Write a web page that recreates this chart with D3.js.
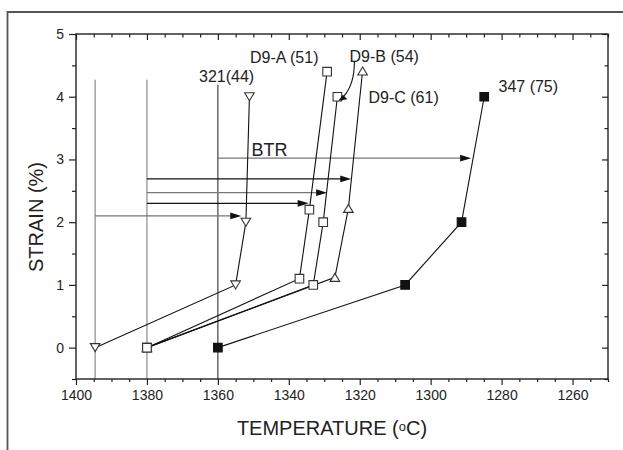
<!DOCTYPE html>
<html><head><meta charset="utf-8">
<script src="https://cdn.jsdelivr.net/npm/d3@7"></script>
<style>
html,body{margin:0;padding:0;background:#fff;}
svg{display:block;font-family:"Liberation Sans",Arial,sans-serif;}
</style></head>
<body><svg id="c" width="623" height="450"></svg>
<script>
// ---------- data ----------
const xTickLabels = [1400, 1380, 1360, 1340, 1320, 1300, 1280, 1260];
const yTickLabels = [0, 1, 2, 3, 4, 5];

const t321 = [1394.6, 1355.0, 1352.1, 1351.1];
const s321 = [0, 1.0, 2.0, 4.0];
const tD9A = [1380, 1337.0, 1334.2, 1329.2];
const sD9A = [0, 1.1, 2.2, 4.4];
const tD9B = [1380, 1333.1, 1330.3, 1326.3];
const sD9B = [0, 1.0, 2.0, 4.0];
const tD9C = [1380, 1327.0, 1323.2, 1319.2];
const sD9C = [0, 1.12, 2.22, 4.41];
const t347 = [1360, 1307.2, 1291.3, 1284.9];
const s347 = [0, 1.0, 2.0, 4.0];

// vertical reference lines: temperature, top strain
const vlineT = [1394.6, 1380, 1360];
const vlineTop = [4.27, 4.27, 4.19];
const vlineColor = ["#8a8a8a", "#8a8a8a", "#444"];

// BTR arrows: strain level, start temperature, end temperature
const btrStrain = [3.02, 2.69, 2.47, 2.30, 2.10];
const btrFrom = [1360, 1380, 1380, 1380, 1394.6];
const btrTo = [1288.6, 1322.4, 1329.2, 1334.4, 1353.4];
const btrColor = ["#777", "#111", "#777", "#111", "#777"];

// ---------- layout ----------
const svg = d3.select("#c");
const L = 76, R = 608, T = 34, B = 379;
const x = d3.scaleLinear().domain([1400, 1250]).range([L, R]);
const y = d3.scaleLinear().domain([-0.5, 5]).range([B, T]);

// outer frame (left and top only visible)
svg.append("path").attr("d", `M7.5,450 V12 H623`).attr("fill", "none")
  .attr("stroke", "#555").attr("stroke-width", 1.8);

// vertical lines
vlineT.forEach((t, i) => {
  svg.append("line").attr("x1", x(t)).attr("x2", x(t))
    .attr("y1", y(vlineTop[i])).attr("y2", y(-0.5))
    .attr("stroke", vlineColor[i]).attr("stroke-width", 1.2);
});

// axes
const axisColor = "#222";
const major20 = d3.range(1400, 1249, -20);
const minor5 = d3.range(1400, 1249, -5).filter(v => v % 20 !== 0);
const majorY = d3.range(0, 5.01, 1);
const minorY = d3.range(-0.5, 5.01, 0.5).filter(v => v % 1 !== 0);

function styleAxis(g) {
  g.select(".domain").remove();
  g.selectAll("line").attr("stroke", axisColor).attr("stroke-width", 1.2);
  g.selectAll("text").attr("fill", "#222").style("font-size", "14px")
    .style("font-family", '"Liberation Sans",Arial,sans-serif');
}
// bottom
svg.append("g").attr("transform", `translate(0,${B})`)
  .call(d3.axisBottom(x).tickValues(major20).tickSize(6).tickPadding(5).tickFormat(d => d))
  .call(styleAxis);
svg.append("g").attr("transform", `translate(0,${B})`)
  .call(d3.axisBottom(x).tickValues(minor5).tickSize(3).tickFormat(""))
  .call(styleAxis);
// top (inward)
svg.append("g").attr("transform", `translate(0,${T})`)
  .call(d3.axisBottom(x).tickValues(major20).tickSize(6).tickFormat(""))
  .call(styleAxis);
svg.append("g").attr("transform", `translate(0,${T})`)
  .call(d3.axisBottom(x).tickValues(minor5).tickSize(3.5).tickFormat(""))
  .call(styleAxis);
// left
svg.append("g").attr("transform", `translate(${L},0)`)
  .call(d3.axisLeft(y).tickValues(majorY).tickSize(7).tickPadding(5).tickFormat(d3.format("d")))
  .call(styleAxis);
svg.append("g").attr("transform", `translate(${L},0)`)
  .call(d3.axisLeft(y).tickValues(minorY).tickSize(4).tickFormat(""))
  .call(styleAxis);
// right (inward)
svg.append("g").attr("transform", `translate(${R},0)`)
  .call(d3.axisLeft(y).tickValues(majorY).tickSize(6).tickFormat(""))
  .call(styleAxis);
svg.append("g").attr("transform", `translate(${R},0)`)
  .call(d3.axisLeft(y).tickValues(minorY).tickSize(3.5).tickFormat(""))
  .call(styleAxis);
// frame lines of plot
svg.append("rect").attr("x", L).attr("y", T).attr("width", R - L).attr("height", B - T)
  .attr("fill", "none").attr("stroke", axisColor).attr("stroke-width", 1.4);

// BTR arrows
btrStrain.forEach((s, i) => {
  const x1 = x(btrFrom[i]), x2 = x(btrTo[i]), yy = y(s);
  svg.append("line").attr("x1", x1).attr("x2", x2 - 9).attr("y1", yy).attr("y2", yy)
    .attr("stroke", btrColor[i]).attr("stroke-width", 1.3);
  svg.append("path").attr("d", `M${x2},${yy} L${x2 - 11},${yy - 3.4} L${x2 - 11},${yy + 3.4} Z`)
    .attr("fill", "#111");
});
svg.append("text").attr("x", x(1350.5)).attr("y", y(3.02) - 2.5)
  .style("font-size", "18px").attr("fill", "#222").text("BTR");

// series
const series = [
  { t: tD9C, s: sD9C, shape: "up", fill: "#fff" },
  { t: t321, s: s321, shape: "down", fill: "#fff" },
  { t: t347, s: s347, shape: "square", fill: "#111" },
  { t: tD9A, s: sD9A, shape: "square", fill: "#fff" },
  { t: tD9B, s: sD9B, shape: "square", fill: "#fff" },
];
const line = d3.line().x(d => x(d[0])).y(d => y(d[1]));
series.forEach(se => {
  const pts = se.t.map((t, i) => [t, se.s[i]]);
  svg.append("path").attr("d", line(pts)).attr("fill", "none")
    .attr("stroke", "#111").attr("stroke-width", 1.1);
});
function marker(shape) {
  if (shape === "square") return "M-4.3,-4.3 H4.3 V4.3 H-4.3 Z";
  if (shape === "up") return "M0,-4 L4.8,4 L-4.8,4 Z";
  return "M0,4 L4.8,-4 L-4.8,-4 Z";
}
series.forEach(se => {
  se.t.forEach((t, i) => {
    svg.append("path").attr("d", marker(se.shape))
      .attr("transform", `translate(${x(t)},${y(se.s[i])})`)
      .attr("fill", se.fill).attr("stroke", se.fill === "#111" ? "#111" : "#333")
      .attr("stroke-width", 1.1);
  });
});

// labels
const labels = [
  ["321(44)", 199, 81.5],
  ["D9-A (51)", 250, 63],
  ["D9-B (54)", 349.5, 61.5],
  ["D9-C (61)", 368.5, 103.3],
  ["347 (75)", 498.5, 91.5],
];
labels.forEach(l => {
  svg.append("text").attr("x", l[1]).attr("y", l[2]).style("font-size", "16px")
    .attr("fill", "#222").text(l[0]);
});

// D9-B pointer (curved arrow to the 4.0 point)
const bx = x(tD9B[3]), by = y(sD9B[3]);
svg.append("path")
  .attr("d", `M${bx + 17},${by - 35} Q${bx + 17},${by - 12} ${bx + 6},${by}`)
  .attr("fill", "none").attr("stroke", "#111").attr("stroke-width", 1.1);
svg.append("path")
  .attr("d", `M${bx + 1},${by + 4} L${bx + 5.5},${by - 2} L${bx + 10},${by + 2.5} Z`)
  .attr("fill", "#111");

// axis titles
svg.append("text").attr("x", (L + R) / 2 - 10).attr("y", 435).attr("text-anchor", "middle")
  .style("font-size", "20px").attr("fill", "#222")
  .html('TEMPERATURE (<tspan style="font-size:13px" dy="-4">o</tspan><tspan dy="4">C)</tspan>');
svg.append("text").attr("transform", `translate(43,217) rotate(-90)`).attr("text-anchor", "middle")
  .style("font-size", "20px").attr("fill", "#222").text("STRAIN (%)");
</script></body></html>
